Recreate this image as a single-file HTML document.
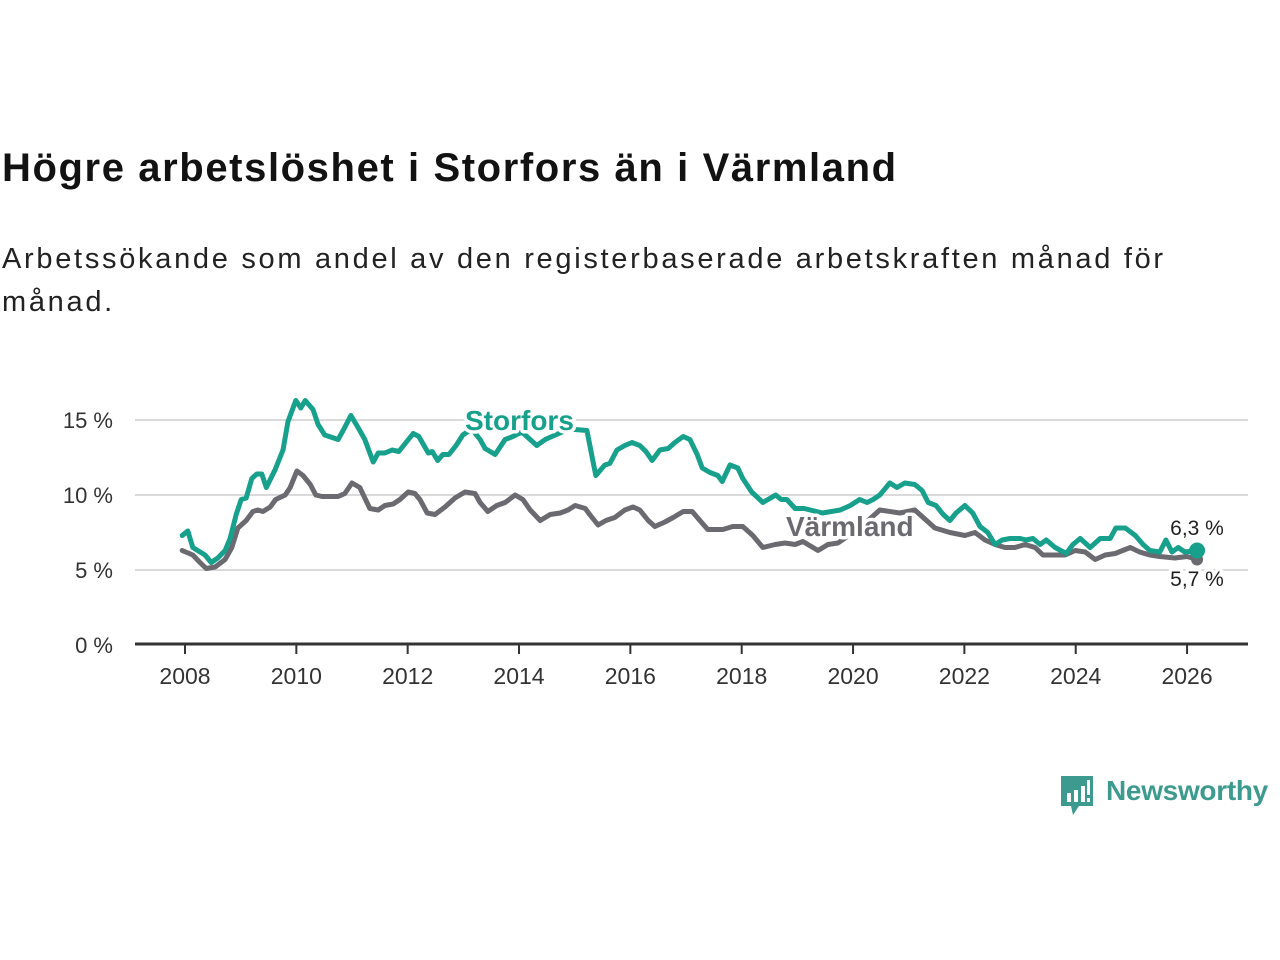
<!DOCTYPE html>
<html><head><meta charset="utf-8">
<style>
body{margin:0;width:1280px;height:960px;background:#fff;font-family:"Liberation Sans","DejaVu Sans",sans-serif;position:relative;overflow:hidden;color:#111}
#title{position:absolute;left:2px;top:146px;font-size:40px;font-weight:bold;color:#121212;margin:0;letter-spacing:1.6px}
#sub{position:absolute;left:2px;top:238px;font-size:29px;line-height:43px;color:#222;width:1200px;margin:0;letter-spacing:2.7px}
svg{position:absolute;left:0;top:0}
</style></head><body>
<h1 id="title">Högre arbetslöshet i Storfors än i Värmland</h1>
<p id="sub">Arbetssökande som andel av den registerbaserade arbetskraften månad för månad.</p>
<svg id="chart" width="1280" height="960"></svg>
<div style="position:absolute;left:1059px;top:774px;width:220px;height:44px">
<svg width="36" height="44" style="left:0;top:0">
<path d="M2 2h32v30H20l-6 9-2-9H2z" fill="#3d9a8e"/>
<rect x="8" y="19" width="4" height="9" fill="#fff"/><rect x="15" y="16" width="4" height="12" fill="#fff"/><rect x="22" y="12" width="4" height="16" fill="#fff"/><rect x="28" y="6" width="3" height="15" fill="#fff"/><rect x="28" y="24" width="3" height="4" fill="#fff"/>
</svg>
<span style="position:absolute;left:47px;top:1px;font-size:28px;color:#3d9a8e;font-weight:bold;letter-spacing:-0.3px">Newsworthy</span>
</div>
<script>
const stYears=[2007.95,2008.05,2008.14,2008.36,2008.47,2008.59,2008.72,2008.81,2008.92,2009.01,2009.10,2009.20,2009.29,2009.38,2009.46,2009.62,2009.76,2009.85,2009.99,2010.08,2010.16,2010.30,2010.39,2010.51,2010.75,2010.84,2010.98,2011.14,2011.23,2011.38,2011.47,2011.59,2011.72,2011.84,2011.97,2012.10,2012.20,2012.37,2012.44,2012.54,2012.63,2012.74,2012.87,2012.99,2013.15,2013.30,2013.39,2013.57,2013.75,2013.89,2014.05,2014.32,2014.47,2014.59,2014.90,2015.22,2015.38,2015.54,2015.63,2015.76,2015.90,2016.03,2016.17,2016.28,2016.39,2016.53,2016.68,2016.80,2016.95,2017.07,2017.20,2017.29,2017.43,2017.57,2017.65,2017.79,2017.93,2018.02,2018.18,2018.38,2018.61,2018.71,2018.81,2018.96,2019.12,2019.45,2019.77,2019.95,2020.12,2020.25,2020.36,2020.48,2020.66,2020.79,2020.93,2021.11,2021.24,2021.35,2021.49,2021.62,2021.74,2021.85,2022.01,2022.15,2022.28,2022.42,2022.55,2022.68,2022.82,2023.00,2023.11,2023.23,2023.36,2023.47,2023.63,2023.83,2023.95,2024.08,2024.26,2024.44,2024.62,2024.72,2024.89,2025.07,2025.21,2025.33,2025.51,2025.62,2025.73,2025.84,2025.96,2026.18];
const stValues=[7.3,7.6,6.5,6.0,5.5,5.8,6.3,7.1,8.7,9.7,9.8,11.1,11.4,11.4,10.5,11.7,13.0,14.9,16.3,15.8,16.3,15.7,14.7,14.0,13.7,14.3,15.3,14.3,13.7,12.2,12.8,12.8,13.0,12.9,13.5,14.1,13.9,12.8,12.9,12.3,12.7,12.7,13.3,14.0,14.4,13.7,13.1,12.7,13.7,13.9,14.2,13.3,13.7,13.9,14.4,14.3,11.3,12.0,12.1,13.0,13.3,13.5,13.3,12.9,12.3,13.0,13.1,13.5,13.9,13.7,12.7,11.8,11.5,11.3,10.9,12.0,11.8,11.1,10.2,9.5,10.0,9.7,9.7,9.1,9.1,8.8,9.0,9.3,9.7,9.5,9.7,10.0,10.8,10.5,10.8,10.7,10.3,9.5,9.3,8.7,8.3,8.8,9.3,8.8,7.9,7.5,6.7,7.0,7.1,7.1,7.0,7.1,6.7,7.0,6.5,6.1,6.7,7.1,6.5,7.1,7.1,7.8,7.8,7.3,6.7,6.3,6.2,7.0,6.2,6.5,6.2,6.3];
const vaYears=[2007.95,2008.14,2008.27,2008.38,2008.54,2008.72,2008.84,2008.95,2009.10,2009.22,2009.31,2009.40,2009.53,2009.63,2009.80,2009.89,2010.01,2010.12,2010.25,2010.35,2010.46,2010.60,2010.75,2010.87,2011.00,2011.14,2011.32,2011.47,2011.59,2011.74,2011.86,2012.01,2012.13,2012.22,2012.35,2012.49,2012.67,2012.85,2013.03,2013.21,2013.30,2013.44,2013.60,2013.75,2013.93,2014.07,2014.20,2014.38,2014.56,2014.74,2014.88,2015.01,2015.19,2015.27,2015.42,2015.56,2015.72,2015.90,2016.05,2016.17,2016.32,2016.44,2016.62,2016.77,2016.95,2017.11,2017.25,2017.39,2017.54,2017.66,2017.84,2018.02,2018.20,2018.38,2018.60,2018.78,2018.96,2019.10,2019.19,2019.37,2019.55,2019.73,2020.12,2020.48,2020.84,2021.11,2021.47,2021.74,2022.01,2022.19,2022.37,2022.55,2022.73,2022.91,2023.09,2023.27,2023.41,2023.81,2023.99,2024.17,2024.35,2024.53,2024.71,2024.98,2025.15,2025.33,2025.51,2025.78,2026.00,2026.18];
const vaValues=[6.3,6.0,5.5,5.1,5.2,5.7,6.5,7.8,8.3,8.9,9.0,8.9,9.2,9.7,10.0,10.5,11.6,11.3,10.7,10.0,9.9,9.9,9.9,10.1,10.8,10.5,9.1,9.0,9.3,9.4,9.7,10.2,10.1,9.7,8.8,8.7,9.2,9.8,10.2,10.1,9.5,8.9,9.3,9.5,10.0,9.7,9.0,8.3,8.7,8.8,9.0,9.3,9.1,8.7,8.0,8.3,8.5,9.0,9.2,9.0,8.3,7.9,8.2,8.5,8.9,8.9,8.3,7.7,7.7,7.7,7.9,7.9,7.3,6.5,6.7,6.8,6.7,6.9,6.7,6.3,6.7,6.8,7.8,9.0,8.8,9.0,7.8,7.5,7.3,7.5,7.0,6.7,6.5,6.5,6.7,6.5,6.0,6.0,6.3,6.2,5.7,6.0,6.1,6.5,6.2,6.0,5.9,5.8,5.9,5.7];
const yTicks=[0,5,10,15];
const yTickLabels=["0 %","5 %","10 %","15 %"];
const xTicks=[2008,2010,2012,2014,2016,2018,2020,2022,2024,2026];

const NS="http://www.w3.org/2000/svg";
const svg=document.getElementById('chart');
const X=y=>185+(y-2008)*55.67;
const Y=v=>645-v*15;
function mk(t,a,p){const e=document.createElementNS(NS,t);for(const k in a)e.setAttribute(k,a[k]);(p||svg).appendChild(e);return e;}

yTicks.forEach((t,i)=>{
  if(t>0){const g=mk('line',{x1:135,x2:1248,y1:Y(t),y2:Y(t),stroke:'#dadada','stroke-width':2});
  
  }
  const l=mk('text',{x:113,y:Y(t)+8,'text-anchor':'end','font-size':22,fill:'#333'});
  l.textContent=yTickLabels[i];
  
  
});
const ax=mk('line',{x1:135,x2:1248,y1:644,y2:644,stroke:'#333','stroke-width':3});


xTicks.forEach(t=>{
  const tk=mk('line',{x1:X(t),x2:X(t),y1:644,y2:654,stroke:'#333','stroke-width':2});
  
  
  const l=mk('text',{x:X(t),y:684,'text-anchor':'middle','font-size':23,fill:'#333'});
  l.textContent=t;
  
  
});
function line(ys,vs,col,name){
  const d=ys.map((y,i)=>(i?'L':'M')+X(y).toFixed(1)+' '+Y(vs[i]).toFixed(1)).join(' ');
  const p=mk('path',{d:d,fill:'none',stroke:col,'stroke-width':5,'stroke-linejoin':'round','stroke-linecap':'round'});
  
  
}
line(vaYears,vaValues,'#6b6a70','varmland-line');
line(stYears,stValues,'#17a08c','storfors-line');
const d1=mk('circle',{cx:X(vaYears[vaYears.length-1]),cy:Y(vaValues[vaValues.length-1]),r:6,fill:'#6b6a70'});


const d2=mk('circle',{cx:X(stYears[stYears.length-1]),cy:Y(stValues[stValues.length-1]),r:8,fill:'#17a08c'});


function lab(txt,x,y,col,size,w,name,anchor){
  const t=mk('text',{x:x,y:y,fill:col,'font-size':size,'font-weight':w,stroke:'#fff','stroke-width':7,'paint-order':'stroke','stroke-linejoin':'round','text-anchor':anchor||'start'});
  t.textContent=txt;
  
  
}
lab('Storfors',465,430,'#17a08c',28,'bold','storfors-label');
lab('Värmland',786,536,'#6b6a70',28,'bold','varmland-label');
lab('6,3 %',1197,535,'#222',21,'normal','storfors-end-value','middle');
lab('5,7 %',1197,586,'#222',21,'normal','varmland-end-value','middle');
</script>
</body></html>
